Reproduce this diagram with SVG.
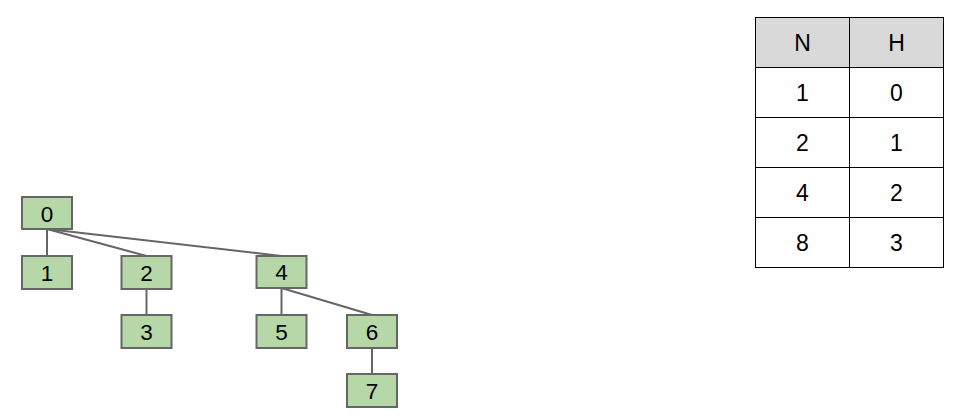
<svg xmlns="http://www.w3.org/2000/svg" width="973" height="416" viewBox="0 0 973 416">
<style>
.node rect{fill:#b6d7a8;stroke:#666666;stroke-width:2}
.node text,.tbl text{font-family:"Liberation Sans",Arial,sans-serif;font-size:22.5px;fill:#000;text-anchor:middle;dominant-baseline:central}
.tbl text{font-size:23px}
.edges line{stroke:#666666;stroke-width:2}
.tbl line{stroke:#000;stroke-width:1}
</style>
<rect width="973" height="416" fill="#fff"/>
<g class="edges">
<line x1="47" y1="229" x2="47" y2="256"/>
<line x1="47" y1="229" x2="146.5" y2="256"/>
<line x1="47" y1="229" x2="281.5" y2="256"/>
<line x1="146.5" y1="289" x2="146.5" y2="315"/>
<line x1="281.5" y1="288" x2="281.5" y2="315"/>
<line x1="281.5" y1="288" x2="372" y2="315"/>
<line x1="372" y1="348" x2="372" y2="374"/>
</g>
<g id="n0" class="node"><rect x="22" y="197" width="50" height="32"/><text x="47" y="214">0</text></g>
<g id="n1" class="node"><rect x="22" y="256" width="50" height="33"/><text x="47" y="273">1</text></g>
<g id="n2" class="node"><rect x="121.5" y="256" width="50" height="33"/><text x="146.5" y="273">2</text></g>
<g id="n4" class="node"><rect x="256.5" y="256" width="50" height="32"/><text x="281.5" y="272.5">4</text></g>
<g id="n3" class="node"><rect x="121.5" y="315" width="50" height="33"/><text x="146.5" y="332">3</text></g>
<g id="n5" class="node"><rect x="256.5" y="315" width="50" height="33"/><text x="281.5" y="332">5</text></g>
<g id="n6" class="node"><rect x="347" y="315" width="50" height="33"/><text x="372" y="332">6</text></g>
<g id="n7" class="node"><rect x="347" y="374" width="50" height="33"/><text x="372" y="391">7</text></g>
<g id="table" class="tbl">
<rect x="755.5" y="17.5" width="188" height="50" fill="#d9d9d9"/>
<rect x="755.5" y="17.5" width="188" height="250" fill="none" stroke="#000" stroke-width="1"/>
<line x1="849.5" y1="17.5" x2="849.5" y2="267.5"/>
<line x1="755.5" y1="67.5" x2="943.5" y2="67.5"/>
<line x1="755.5" y1="117.5" x2="943.5" y2="117.5"/>
<line x1="755.5" y1="167.5" x2="943.5" y2="167.5"/>
<line x1="755.5" y1="217.5" x2="943.5" y2="217.5"/>
<text x="802.5" y="43">N</text><text x="896.5" y="43">H</text>
<text x="802.5" y="93">1</text><text x="896.5" y="93">0</text>
<text x="802.5" y="143">2</text><text x="896.5" y="143">1</text>
<text x="802.5" y="193">4</text><text x="896.5" y="193">2</text>
<text x="802.5" y="243">8</text><text x="896.5" y="243">3</text>
</g>
</svg>
